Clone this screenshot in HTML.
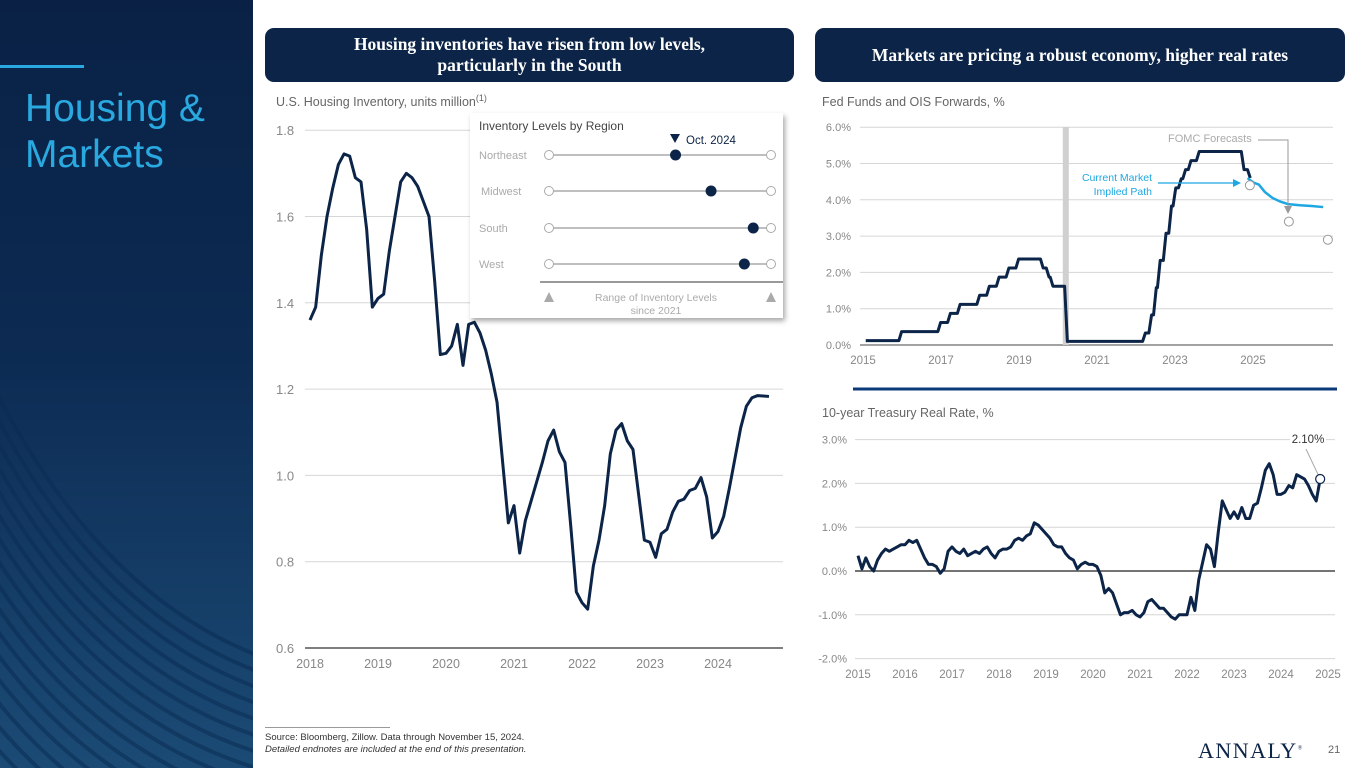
<!DOCTYPE html>
<html><head><meta charset="utf-8">
<style>
html,body{margin:0;width:1365px;height:768px;overflow:hidden}
body{position:relative;background:#fff;font-family:"Liberation Sans",sans-serif}
.abs{position:absolute}
.hdr{position:absolute;top:28px;height:54px;background:#0b2447;border-radius:9px;color:#fff;font-family:"Liberation Serif",serif;font-weight:bold;font-size:17.5px;text-align:center;display:flex;align-items:center;justify-content:center;line-height:21px}
.ct{position:absolute;font-size:12.5px;color:#666}
svg text{font-family:"Liberation Sans",sans-serif}
</style></head><body>
<div class="abs" style="left:0;top:0;width:253px;height:768px;overflow:hidden;background:linear-gradient(180deg,#0a2145 0%,#0c2a52 45%,#1b4b75 100%)">
<svg width="253" height="768" style="position:absolute;left:0;top:0">
<g fill="none" stroke="#0a2d55" stroke-width="4" opacity="0.55" id="waves"></g>
</svg>
<div class="abs" style="left:0;top:65px;width:84px;height:3px;background:#29a9e0"></div>
<div class="abs" style="left:25px;top:86px;color:#29a9e0;font-size:39px;line-height:46px">Housing &amp;<br>Markets</div>
</div>

<div class="hdr" style="left:265px;width:529px">Housing inventories have risen from low levels,<br>particularly in the South</div>
<div class="hdr" style="left:815px;width:530px">Markets are pricing a robust economy, higher real rates</div>

<div class="ct" style="left:276px;top:95px">U.S. Housing Inventory, units million<sup style="font-size:9px;line-height:0">(1)</sup></div>
<div class="ct" style="left:822px;top:95px">Fed Funds and OIS Forwards, %</div>
<div class="ct" style="left:822px;top:406px">10-year Treasury Real Rate, %</div>

<svg class="abs" style="left:0;top:0" width="1365" height="768" id="charts"></svg>

<div class="abs" style="left:470px;top:113px;width:313px;height:205px;background:#fff;box-shadow:2px 3px 5px rgba(0,0,0,0.35)"></div>
<svg class="abs" style="left:0;top:0" width="1365" height="768" id="inset"></svg>

<div class="abs" style="left:265px;top:727px;width:125px;height:1px;background:#999"></div>
<div class="abs" style="left:265px;top:732px;font-size:9.5px;color:#333;line-height:12px">Source: Bloomberg, Zillow. Data through November 15, 2024.<br><i>Detailed endnotes are included at the end of this presentation.</i></div>
<div class="abs" style="left:1198px;top:738px;height:26px;line-height:26px;font-family:'Liberation Serif',serif;font-size:22px;letter-spacing:1.5px;color:#0b2447">ANNALY<sup style="font-size:6px;line-height:0">®</sup></div>
<div class="abs" style="left:1328px;top:744px;font-size:11px;color:#666">21</div>

<script>
// ---------- data ----------
const invStart = 2018;
const invValues = [1.36,1.39,1.51,1.60,1.665,1.72,1.745,1.74,1.69,1.68,1.57,1.39,
1.41,1.42,1.52,1.60,1.68,1.70,1.69,1.67,1.635,1.60,1.45,1.28,
1.283,1.30,1.35,1.255,1.35,1.355,1.33,1.29,1.235,1.17,1.03,0.89,
0.93,0.82,0.895,0.94,0.985,1.03,1.08,1.105,1.055,1.03,0.885,0.73,
0.705,0.69,0.79,0.85,0.93,1.05,1.105,1.12,1.08,1.06,0.955,0.85,
0.845,0.81,0.865,0.875,0.915,0.94,0.945,0.965,0.97,0.995,0.95,0.855,
0.87,0.905,0.97,1.04,1.11,1.16,1.18,1.185,1.184,1.183];
const invYTicks = [0.6,0.8,1.0,1.2,1.4,1.6,1.8];
const invXTicks = [2018,2019,2020,2021,2022,2023,2024];

const regions = ["Northeast","Midwest","South","West"];
const regionPct = [0.57,0.73,0.92,0.88];

const fedChangeDates = [2015.0,2015.92,2016.92,2017.17,2017.42,2017.92,2018.17,2018.42,2018.67,2018.92,2019.55,2019.7,2019.8,2020.17,2022.17,2022.33,2022.45,2022.55,2022.7,2022.84,2022.95,2023.09,2023.2,2023.34,2023.55,2024.7,2024.86];
const fedLevels = [0.12,0.37,0.62,0.87,1.12,1.37,1.62,1.87,2.12,2.37,2.12,1.87,1.62,0.1,0.33,0.83,1.58,2.33,3.08,3.83,4.33,4.58,4.83,5.08,5.33,4.83,4.6];
const oisDates = [2024.86,2025.0,2025.15,2025.3,2025.5,2025.7,2025.9,2026.2,2026.5,2026.8];
const oisValues = [4.6,4.48,4.42,4.22,4.05,3.95,3.88,3.85,3.83,3.8];
const fomcDates = [2024.92,2025.92,2026.92];
const fomcValues = [4.4,3.4,2.9];
const fedYTicks = [0,1,2,3,4,5,6];
const fedXTicks = [2015,2017,2019,2021,2023,2025];

const rrStart = 2015;
const rrValues = [0.35,0.05,0.3,0.1,0.0,0.25,0.4,0.5,0.45,0.5,0.55,0.6,
0.6,0.7,0.65,0.7,0.5,0.3,0.15,0.15,0.1,-0.05,0.05,0.45,
0.55,0.45,0.4,0.5,0.35,0.4,0.45,0.4,0.5,0.55,0.4,0.3,
0.45,0.5,0.5,0.55,0.7,0.75,0.7,0.8,0.85,1.1,1.05,0.95,
0.85,0.75,0.6,0.55,0.55,0.4,0.3,0.25,0.05,0.15,0.2,0.15,
0.15,0.1,-0.1,-0.5,-0.4,-0.5,-0.75,-1.0,-0.95,-0.95,-0.9,-1.0,
-1.05,-0.95,-0.7,-0.65,-0.75,-0.85,-0.85,-0.95,-1.05,-1.1,-1.0,-1.0,
-1.0,-0.6,-0.9,-0.2,0.2,0.6,0.5,0.1,0.9,1.6,1.4,1.2,
1.35,1.2,1.45,1.2,1.2,1.5,1.55,1.9,2.3,2.45,2.2,1.75,
1.75,1.8,1.95,1.9,2.2,2.15,2.1,1.95,1.75,1.6,2.1];
const rrLastLabel = "2.10%";
const rrYTicks = [-2,-1,0,1,2,3];
const rrXTicks = [2015,2016,2017,2018,2019,2020,2021,2022,2023,2024,2025];

// ---------- helpers ----------
const NS="http://www.w3.org/2000/svg";
const svg=document.getElementById('charts');
const ins=document.getElementById('inset');
function mk(p,tag,at){const e=document.createElementNS(NS,tag);for(const k in at)e.setAttribute(k,at[k]);p.appendChild(e);return e;}
function txt(p,x,y,s,at){const e=mk(p,'text',Object.assign({x:x,y:y},at));e.textContent=s;return e;}

// waves
const wg=document.getElementById('waves');
for(let i=0;i<16;i++){
  const p=mk(wg,'path',{d:`M ${-10} ${380+i*24} Q ${100} ${600+i*18} ${270} ${660+i*16}`});
  
  
}

// ---------- chart 1 ----------
const ix=y=>310+(y-2018)*68, iy=v=>648-(v-0.6)/0.2*86.3;
invYTicks.forEach(t=>{
  const l=mk(svg,'line',{x1:305,x2:783,y1:iy(t),y2:iy(t),stroke:t===0.6?'#333':'#d6d6d6','stroke-width':t===0.6?1.3:1});
  
  
  const tx=txt(svg,276,iy(t)+5,t.toFixed(1),{fill:'#888','font-size':13});
  
  
});
invXTicks.forEach(t=>{
  const tx=txt(svg,ix(t),668,String(t),{fill:'#888','font-size':12.5,'text-anchor':'middle'});
  
  
});
const invLine=mk(svg,'polyline',{points:invValues.map((v,i)=>ix(invStart+i/12)+','+iy(v)).join(' '),fill:'none',stroke:'#0b2447','stroke-width':3,'stroke-linejoin':'round'});



// ---------- inset ----------
const it=txt(ins,479,130,'Inventory Levels by Region',{fill:'#444','font-size':12});


const tx0=549,tx1=771;
const rowY=[155,191,228,264];
const ot=txt(ins,686,144,'Oct. 2024',{fill:'#0b2447','font-size':11.5});


const otri=mk(ins,'path',{d:'M670 134 L680 134 L675 143 Z',fill:'#0b2447'});


regions.forEach((r,i)=>{
  const y=rowY[i];
  const lb=txt(ins,479+(r==='Midwest'?2:0),y+4,r,{fill:'#aaa','font-size':11});
  
  
  const tr=mk(ins,'line',{x1:tx0,x2:tx1,y1:y,y2:y,stroke:'#aaa','stroke-width':1.5});
  
  
  [tx0,tx1].forEach(x=>{
    const c=mk(ins,'circle',{cx:x,cy:y,r:4.5,fill:'#fff',stroke:'#aaa','stroke-width':1});
    
    
  });
  const d=mk(ins,'circle',{cx:tx0+regionPct[i]*(tx1-tx0),cy:y,r:5.5,fill:'#0b2447'});
  
  
});
const sep=mk(ins,'line',{x1:540,x2:783,y1:282,y2:282,stroke:'#333','stroke-width':1});


[tx0,tx1].forEach(x=>{
  const t=mk(ins,'path',{d:`M${x-5} 302 L${x+5} 302 L${x} 292 Z`,fill:'#aaa'});
  
  
});
const rl=txt(ins,656,301,'Range of Inventory Levels',{fill:'#aaa','font-size':10.5,'text-anchor':'middle'});


const rl2=txt(ins,656,314,'since 2021',{fill:'#aaa','font-size':10.5,'text-anchor':'middle'});



// ---------- chart 2 ----------
const fx=y=>863+(y-2015)*39, fy=v=>345-v*36.3;
fedYTicks.forEach(t=>{
  const l=mk(svg,'line',{x1:860,x2:1333,y1:fy(t),y2:fy(t),stroke:t===0?'#444':'#d6d6d6','stroke-width':1});
  
  
  const tx=txt(svg,851,fy(t)+4,t.toFixed(1)+'%',{fill:'#888','font-size':11,'text-anchor':'end'});
  
  
});
fedXTicks.forEach(t=>{
  const tx=txt(svg,fx(t),364,String(t),{fill:'#888','font-size':11.5,'text-anchor':'middle'});
  
  
});
const cov=mk(svg,'rect',{x:fx(2020.2)-3,y:fy(6),width:6,height:fy(0)-fy(6),fill:'#d0d0d0'});


let pts=[];
fedChangeDates.forEach((d,i)=>{
  if(i>0) pts.push([d,fedLevels[i-1]]);
  pts.push([d+0.07,fedLevels[i]]);
});
const fedLine=mk(svg,'polyline',{points:pts.map(p=>fx(p[0])+','+fy(p[1])).join(' '),fill:'none',stroke:'#0b2447','stroke-width':3,'stroke-linejoin':'round'});


const ois=mk(svg,'polyline',{points:oisDates.map((d,i)=>fx(d)+','+fy(oisValues[i])).join(' '),fill:'none',stroke:'#1ea7e1','stroke-width':2.5});


fomcDates.forEach((d,i)=>{
  const c=mk(svg,'circle',{cx:fx(d),cy:fy(fomcValues[i]),r:4.5,fill:'#fff',stroke:'#999','stroke-width':1});
  
  
});
const fl=txt(svg,1168,142,'FOMC Forecasts',{fill:'#aaa','font-size':11});


const fb=mk(svg,'polyline',{points:'1258,140 1288,140 1288,207',fill:'none',stroke:'#999','stroke-width':1});


const fa=mk(svg,'path',{d:'M1284 206 L1292 206 L1288 214 Z',fill:'#999'});


const cl=txt(svg,1152,181,'Current Market',{fill:'#1ea7e1','font-size':10.5,'text-anchor':'end'});


const cl2=txt(svg,1152,195,'Implied Path',{fill:'#1ea7e1','font-size':10.5,'text-anchor':'end'});


const ca=mk(svg,'line',{x1:1158,x2:1234,y1:183,y2:183,stroke:'#1ea7e1','stroke-width':1.3});


const cah=mk(svg,'path',{d:'M1233 179 L1241 183 L1233 187 Z',fill:'#1ea7e1'});



const div=mk(svg,'line',{x1:853,x2:1337,y1:389,y2:389,stroke:'#0b3a7a','stroke-width':3});



// ---------- chart 3 ----------
const rx=y=>858+(y-2015)*47, ry=v=>571-v*43.8;
rrYTicks.forEach(t=>{
  const l=mk(svg,'line',{x1:855,x2:1335,y1:ry(t),y2:ry(t),stroke:t===0?'#222':'#d6d6d6','stroke-width':t===0?1.3:1});
  
  
  const tx=txt(svg,847,ry(t)+4,t.toFixed(1)+'%',{fill:'#888','font-size':11,'text-anchor':'end'});
  
  
});
rrXTicks.forEach(t=>{
  const tx=txt(svg,rx(t),678,String(t),{fill:'#888','font-size':11.5,'text-anchor':'middle'});
  
  
});
const rrLine=mk(svg,'polyline',{points:rrValues.map((v,i)=>rx(rrStart+i/12)+','+ry(v)).join(' '),fill:'none',stroke:'#0b2447','stroke-width':3,'stroke-linejoin':'round'});


const li=rrValues.length-1, lx=rx(rrStart+li/12), lyy=ry(rrValues[li]);
const lbg=mk(svg,'rect',{x:1290,y:430,width:36,height:16,fill:'#fff'});


const ll=mk(svg,'line',{x1:1306,y1:449,x2:lx,y2:lyy,stroke:'#aaa','stroke-width':1});


const lc=mk(svg,'circle',{cx:lx,cy:lyy,r:4.5,fill:'#fff',stroke:'#0b2447','stroke-width':1.2});


const lt=txt(svg,1308,443,rrLastLabel,{fill:'#333','font-size':11.5,'text-anchor':'middle'});


</script>
</body></html>
